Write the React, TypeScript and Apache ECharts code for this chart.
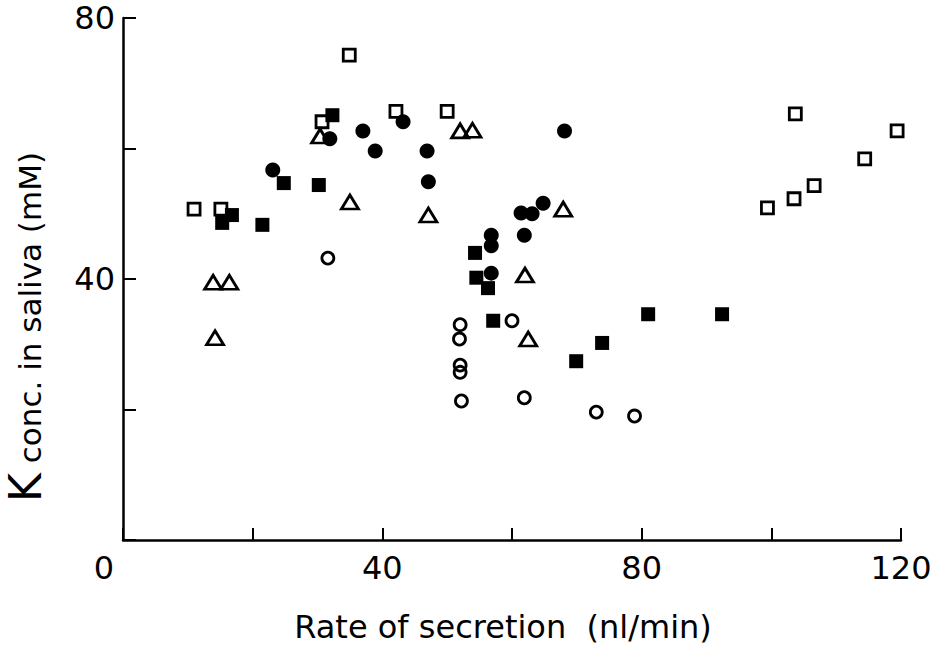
import React, { useEffect, useRef } from "react";
import * as echarts from "echarts";

// [rate of secretion (nl/min), K conc. (mM)]
const openTriangles: [number, number][] = [
  [13.9, 39.5], [16.4, 39.5], [14.2, 31.0], [30.4, 61.9], [35.0, 51.8],
  [47.1, 49.8], [52.0, 62.7], [53.9, 62.8], [67.9, 50.7], [62.0, 40.6], [62.5, 30.8],
];
const openCircles: [number, number][] = [
  [31.6, 43.2], [52.0, 33.0], [51.9, 30.8], [52.0, 26.8], [52.0, 25.7], [52.2, 21.3],
  [60.0, 33.6], [61.9, 21.8], [73.0, 19.6], [78.9, 19.0],
];
const openSquares: [number, number][] = [
  [10.96, 50.7], [15.1, 50.7], [34.9, 74.3], [30.7, 64.1], [42.1, 65.7], [50.0, 65.7],
  [103.7, 65.3], [119.4, 62.7], [114.4, 58.4], [106.6, 54.3], [103.5, 52.3], [99.4, 50.9],
];
const filledSquares: [number, number][] = [
  [15.3, 48.6], [16.8, 49.8], [21.5, 48.3], [24.8, 54.7], [30.2, 54.4], [32.3, 65.1],
  [54.3, 44.0], [54.5, 40.2], [56.3, 38.6], [57.1, 33.6], [69.9, 27.4], [73.9, 30.2],
  [81.0, 34.6], [92.4, 34.6],
];
const filledCircles: [number, number][] = [
  [23.1, 56.7], [31.9, 61.5], [37.0, 62.7], [38.9, 59.6], [43.2, 64.1], [46.9, 59.6],
  [47.1, 54.9], [68.1, 62.7], [64.8, 51.6], [61.4, 50.1], [63.1, 50.0], [61.9, 46.7],
  [56.8, 46.7], [56.8, 45.1], [56.8, 40.9],
];

const xLabels = [0, 40, 80, 120];
const yLabels = [40, 80];
const xTitle = "Rate of secretion  (nl/min)";
const yTitleK = "K";
const yTitleRest = "conc. in saliva (mM)";

const FONT = "DejaVu Sans";

export default function App() {
  const ref = useRef<HTMLDivElement>(null);
  useEffect(() => {
    if (!ref.current) return;
    const chart = echarts.init(ref.current, undefined, { renderer: "svg" });
    const openStyle = { color: "rgba(0,0,0,0)", borderColor: "#000", borderWidth: 2.8, opacity: 1 };
    const filledStyle = { color: "#000", opacity: 1 };
    chart.setOption({
      animation: false,
      backgroundColor: "#fff",
      grid: { left: 123, right: 33, top: 18, bottom: 112, containLabel: false, outerBoundsMode: "none" },
      graphic: [
        {
          type: "text",
          x: 47,
          y: 327,
          rotation: Math.PI / 2,
          style: {
            text: `{k|${yTitleK}}{r| ${yTitleRest}}`,
            align: "center",
            verticalAlign: "bottom",
            fill: "#000",
            rich: {
              k: { fontFamily: FONT, fontSize: 44, fill: "#000", verticalAlign: "bottom", lineHeight: 44 },
              r: { fontFamily: FONT, fontSize: 31, fill: "#000", verticalAlign: "bottom", lineHeight: 31, padding: [0, 0, 2, 0] },
            },
          },
        },
      ],
      xAxis: {
        type: "value",
        min: 0,
        max: 120,
        interval: 20,
        name: xTitle,
        nameLocation: "middle",
        nameGap: 71,
        nameTextStyle: { fontFamily: FONT, fontSize: 32, color: "#000", padding: [0, 18, 0, 0] },
        axisLine: { show: true, lineStyle: { color: "#000", width: 2.5 } },
        axisTick: { show: true, inside: true, length: 12, lineStyle: { color: "#000", width: 2 } },
        splitLine: { show: false },
        axisLabel: {
          margin: 12,
          fontFamily: FONT,
          fontSize: 32,
          color: "#000",
          formatter: (v: number) =>
            xLabels.includes(v) ? (v === 0 ? "{z|0}" : String(v)) : "",
          rich: { z: { fontFamily: FONT, fontSize: 32, color: "#000", padding: [0, 38, 0, 0] } },
        },
      },
      yAxis: {
        type: "value",
        min: 0,
        max: 80,
        interval: 20,
        axisLine: { show: true, lineStyle: { color: "#000", width: 2.5 } },
        axisTick: { show: true, inside: true, length: 13, lineStyle: { color: "#000", width: 2 } },
        splitLine: { show: false },
        axisLabel: {
          margin: 8,
          fontFamily: FONT,
          fontSize: 32,
          color: "#000",
          formatter: (v: number) => (yLabels.includes(v) ? String(v) : ""),
        },
      },
      series: [
        { type: "scatter", data: openTriangles, symbol: "triangle", symbolSize: [17, 14], itemStyle: openStyle },
        { type: "scatter", data: openCircles, symbol: "circle", symbolSize: 12, itemStyle: openStyle },
        { type: "scatter", data: openSquares, symbol: "rect", symbolSize: 12, itemStyle: openStyle },
        { type: "scatter", data: filledSquares, symbol: "rect", symbolSize: 14, itemStyle: filledStyle },
        { type: "scatter", data: filledCircles, symbol: "circle", symbolSize: 15, itemStyle: filledStyle },
      ],
    });
    return () => chart.dispose();
  }, []);
  return (
    <div
      ref={ref}
      style={{ position: "fixed", left: 0, top: 0, width: 934, height: 652, background: "#fff" }}
    />
  );
}
